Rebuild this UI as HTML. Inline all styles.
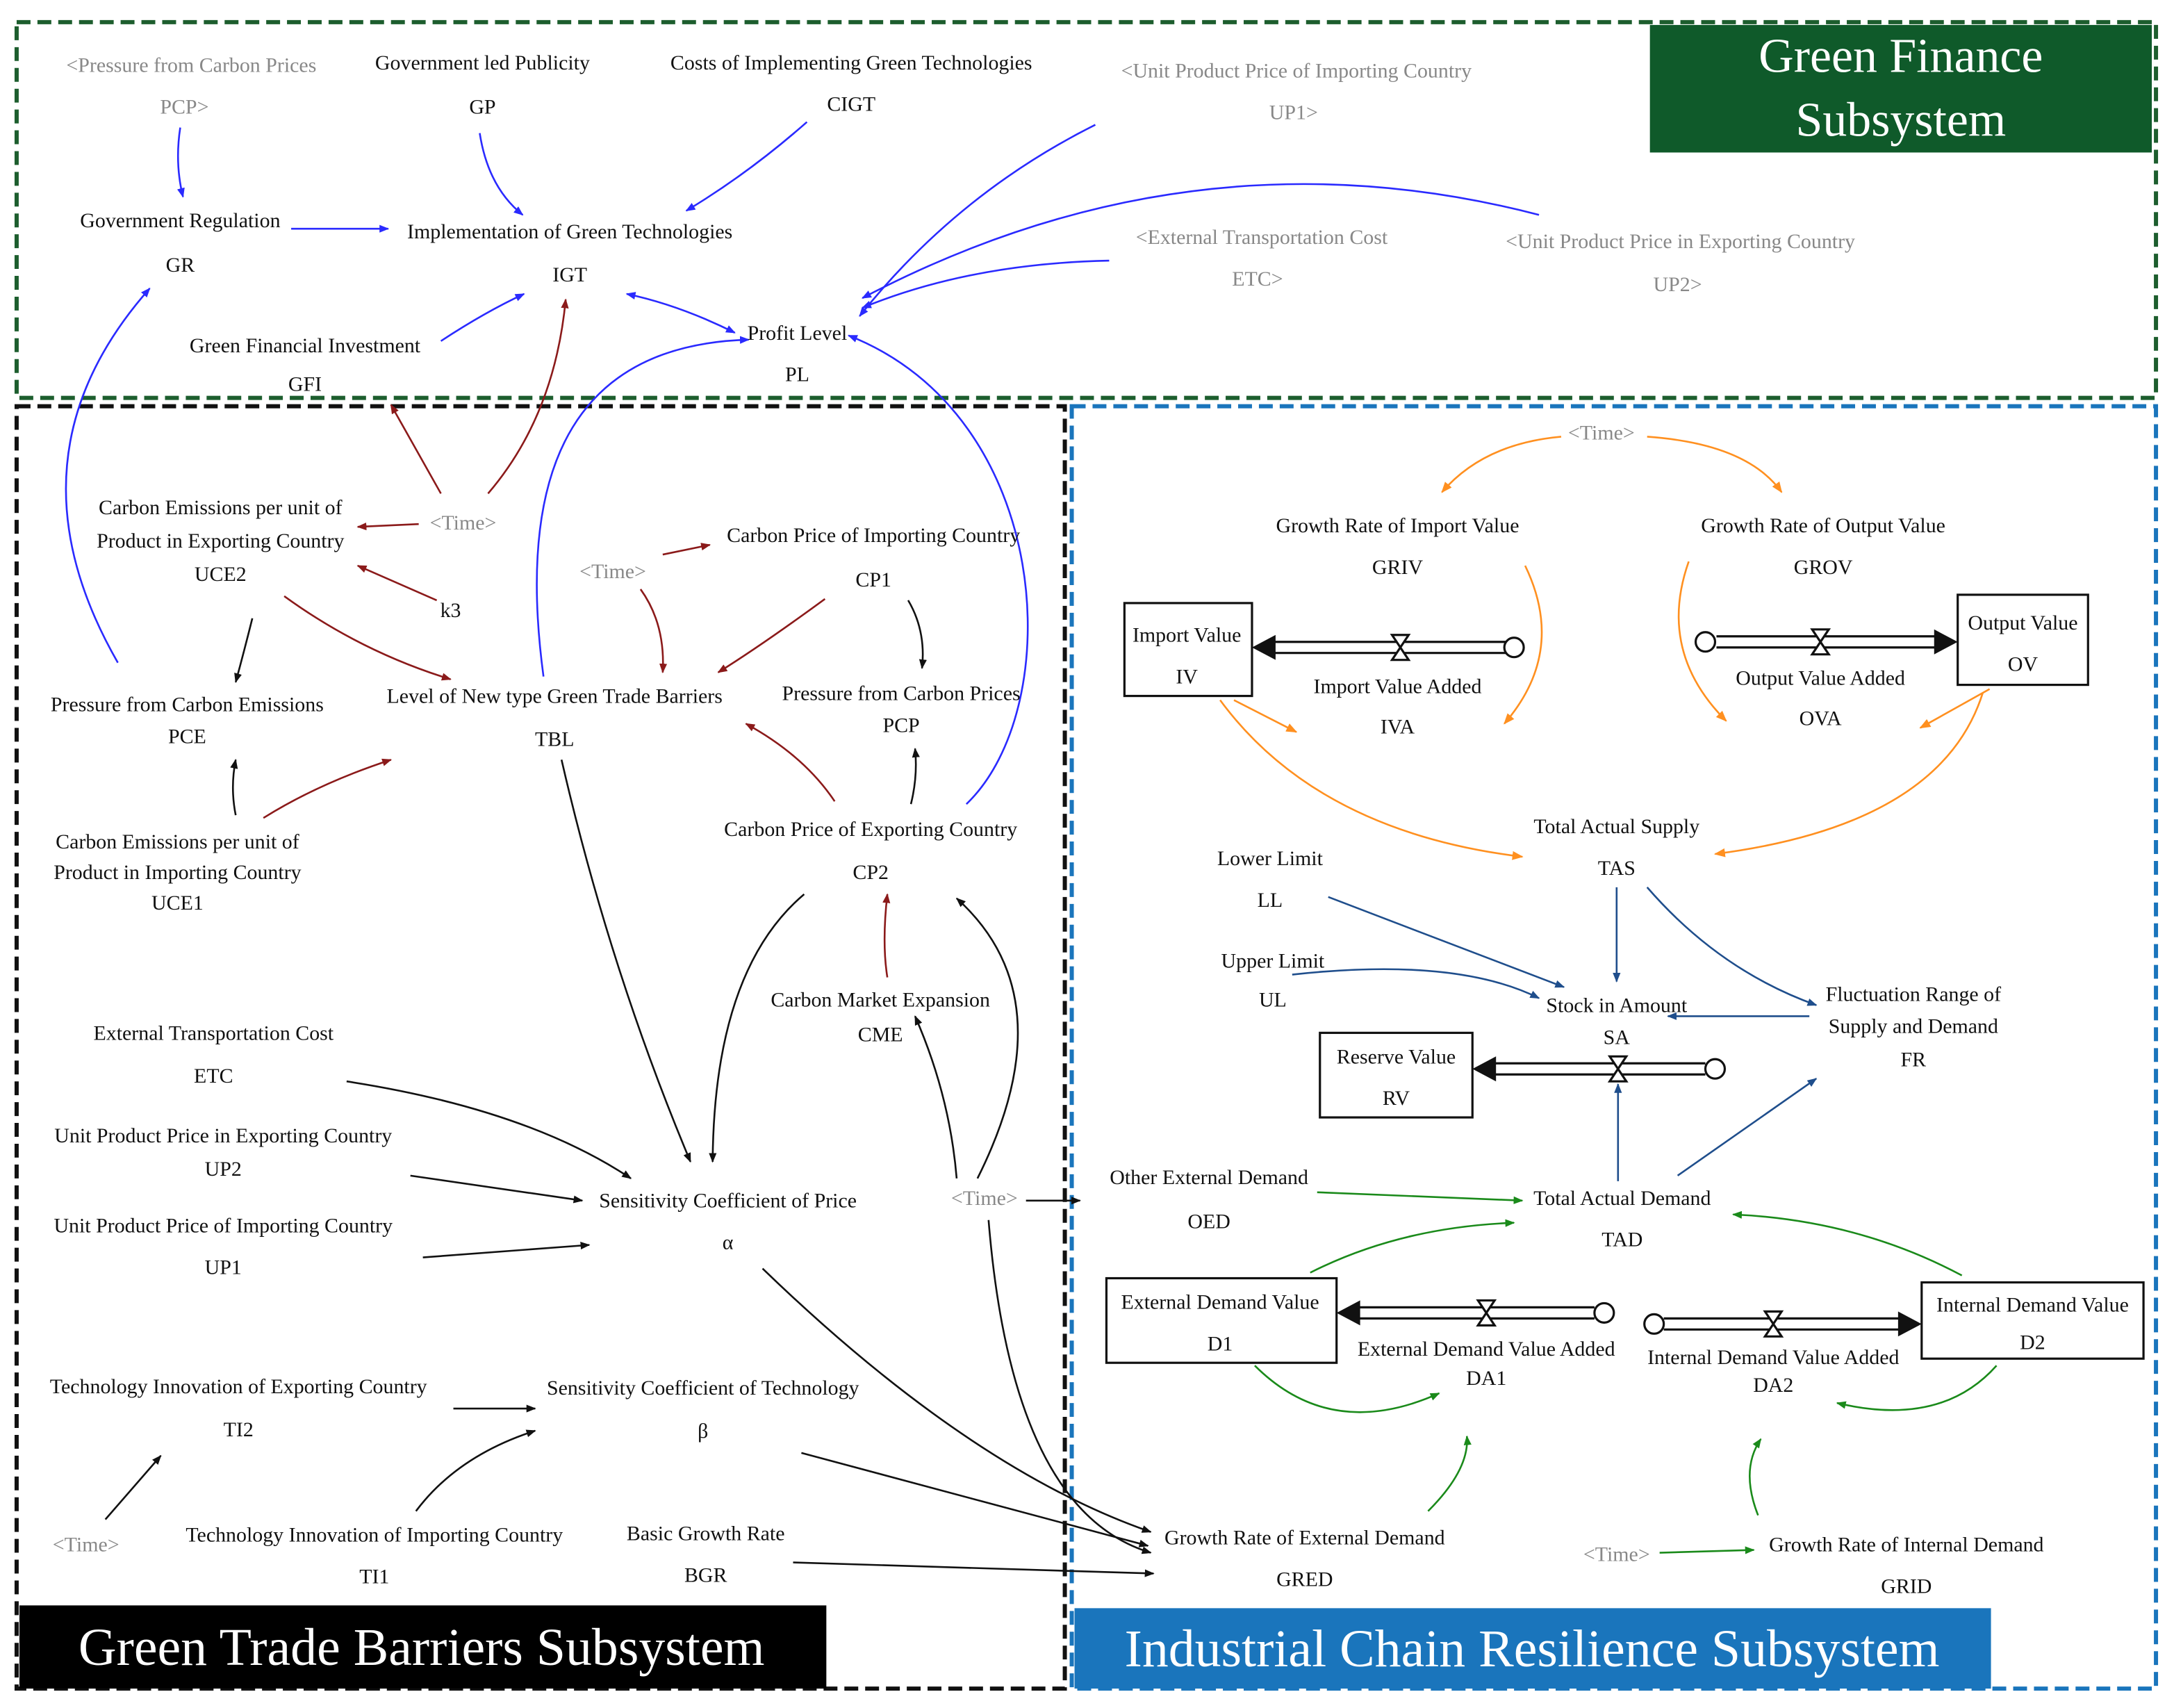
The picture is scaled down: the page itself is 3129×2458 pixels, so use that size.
<!DOCTYPE html>
<html><head><meta charset="utf-8"><style>
html,body{margin:0;padding:0;background:#fff}
svg{display:block}
text{font-family:"Liberation Serif",serif;font-size:15px;fill:#111;text-anchor:middle}
.g{fill:#888}
</style></head><body>
<svg width="3129" height="2458" viewBox="0 0 1568 1232" preserveAspectRatio="none" xmlns="http://www.w3.org/2000/svg">
<defs>
<marker id="mb" viewBox="0 0 10 10" refX="9" refY="5" markerWidth="7" markerHeight="7" orient="auto" markerUnits="userSpaceOnUse"><path d="M0,1 L10,5 L0,9z" fill="#2a2aff"/></marker>
<marker id="mbs" viewBox="0 0 10 10" refX="1" refY="5" markerWidth="7" markerHeight="7" orient="auto" markerUnits="userSpaceOnUse"><path d="M10,1 L0,5 L10,9z" fill="#2a2aff"/></marker>
<marker id="mr" viewBox="0 0 10 10" refX="9" refY="5" markerWidth="7" markerHeight="7" orient="auto" markerUnits="userSpaceOnUse"><path d="M0,1 L10,5 L0,9z" fill="#8b1a1a"/></marker>
<marker id="mk" viewBox="0 0 10 10" refX="9" refY="5" markerWidth="7" markerHeight="7" orient="auto" markerUnits="userSpaceOnUse"><path d="M0,1 L10,5 L0,9z" fill="#111"/></marker>
<marker id="mo" viewBox="0 0 10 10" refX="9" refY="5" markerWidth="8" markerHeight="8" orient="auto" markerUnits="userSpaceOnUse"><path d="M0,1 L10,5 L0,9z" fill="#ff9020"/></marker>
<marker id="mn" viewBox="0 0 10 10" refX="9" refY="5" markerWidth="7" markerHeight="7" orient="auto" markerUnits="userSpaceOnUse"><path d="M0,1 L10,5 L0,9z" fill="#1f4e8c"/></marker>
<marker id="mg" viewBox="0 0 10 10" refX="9" refY="5" markerWidth="7" markerHeight="7" orient="auto" markerUnits="userSpaceOnUse"><path d="M0,1 L10,5 L0,9z" fill="#1a8a1a"/></marker>
</defs>

<rect x="12" y="16" width="1543" height="271" fill="none" stroke="#1d5e2e" stroke-width="3" stroke-dasharray="10,5"/>
<rect x="12" y="293" width="756" height="925" fill="none" stroke="#111" stroke-width="3" stroke-dasharray="10,5"/>
<rect x="773" y="293" width="782" height="925" fill="none" stroke="#1a75bc" stroke-width="3" stroke-dasharray="10,5"/>
<rect x="1190" y="18" width="362" height="92" fill="#0f5a2a"/>
<text x="1371" y="52" style="font-size:35px;fill:#fff">Green Finance</text>
<text x="1371" y="98" style="font-size:35px;fill:#fff">Subsystem</text>
<rect x="14" y="1158" width="582" height="60" fill="#000"/>
<text x="304" y="1201" style="font-size:38px;fill:#fff">Green Trade Barriers Subsystem</text>
<rect x="775" y="1160" width="661" height="58" fill="#1a75bc"/>
<text x="1105" y="1202" style="font-size:38px;fill:#fff">Industrial Chain Resilience Subsystem</text>

<g fill="none" stroke="#111" stroke-width="1.6">
<rect x="811" y="435" width="92" height="67" fill="#fff"/>
<rect x="1412" y="429" width="94" height="65" fill="#fff"/>
<rect x="952" y="745" width="110" height="61" fill="#fff"/>
<rect x="798" y="922" width="166" height="61" fill="#fff"/>
<rect x="1386" y="925" width="160" height="55" fill="#fff"/>
<path d="M918,463 H1086 M918,471 H1086"/>
<path d="M1238,459 H1396 M1238,467 H1396"/>
<path d="M1077,767 H1230 M1077,775 H1230"/>
<path d="M979,943 H1150 M979,951 H1150"/>
<path d="M1200,951 H1370 M1200,959 H1370"/>
<circle cx="1092" cy="467" r="7" fill="#fff"/>
<circle cx="1230" cy="463" r="7" fill="#fff"/>
<circle cx="1237" cy="771" r="7" fill="#fff"/>
<circle cx="1157" cy="947" r="7" fill="#fff"/>
<circle cx="1193" cy="955" r="7" fill="#fff"/>
<path d="M1004,458 h12 l-12,18 h12z M1307,454 h12 l-12,18 h12z M1161,762 h12 l-12,18 h12z M1066,938 h12 l-12,18 h12z M1273,946 h12 l-12,18 h12z" fill="#fff"/>
</g>
<g fill="#111">
<path d="M903,467 L920,458 L920,476z"/>
<path d="M1412,463 L1395,454 L1395,472z"/>
<path d="M1062,771 L1079,762 L1079,780z"/>
<path d="M964,947 L981,938 L981,956z"/>
<path d="M1386,955 L1369,946 L1369,964z"/>
</g>

<g fill="none" stroke="#2a2aff" stroke-width="1.3" marker-end="url(#mb)">
<path d="M130,92 Q126,118 132,142"/>
<path d="M346,96 Q352,135 377,155"/>
<path d="M582,88 Q540,125 495,152"/>
<path d="M210,165 L280,165"/>
<path d="M790,90 Q690,140 620,228"/>
<path d="M800,188 Q700,190 622,222"/>
<path d="M1110,155 Q860,90 622,215"/>
<path d="M318,246 Q350,225 378,212"/>
<path d="M85,478 Q0,330 108,208"/>
<path d="M392,488 Q360,250 540,245"/>
<path d="M697,580 C770,510 760,300 612,242"/>
<path d="M530,240 Q490,220 452,212" marker-start="url(#mbs)"/>
</g>

<g fill="none" stroke="#8b1a1a" stroke-width="1.3" marker-end="url(#mr)">
<path d="M318,356 L282,292"/>
<path d="M352,356 Q400,300 408,216"/>
<path d="M302,378 L258,380"/>
<path d="M315,433 L258,408"/>
<path d="M205,430 Q260,470 325,490"/>
<path d="M478,400 L512,393"/>
<path d="M462,425 Q480,450 478,485"/>
<path d="M595,432 Q550,465 518,485"/>
<path d="M190,590 Q230,565 282,548"/>
<path d="M602,578 Q580,545 538,522"/>
<path d="M640,705 Q636,680 640,645"/>
</g>

<g fill="none" stroke="#111" stroke-width="1.3" marker-end="url(#mk)">
<path d="M182,446 Q176,470 170,492"/>
<path d="M170,588 Q166,568 170,548"/>
<path d="M655,433 Q668,455 665,482"/>
<path d="M657,580 Q662,560 660,540"/>
<path d="M405,548 Q440,700 498,838"/>
<path d="M580,645 Q515,700 514,838"/>
<path d="M250,780 Q380,800 455,850"/>
<path d="M296,848 L420,866"/>
<path d="M305,907 L425,898"/>
<path d="M327,1016 L386,1016"/>
<path d="M300,1090 Q330,1050 386,1032"/>
<path d="M76,1096 L116,1050"/>
<path d="M740,866 L779,866"/>
<path d="M690,850 Q685,790 660,733"/>
<path d="M705,850 Q770,720 690,648"/>
<path d="M713,880 Q730,1090 830,1120"/>
<path d="M550,915 Q700,1060 830,1105"/>
<path d="M578,1048 L828,1115"/>
<path d="M572,1127 L832,1135"/>
</g>

<g fill="none" stroke="#ff9020" stroke-width="1.3" marker-end="url(#mo)">
<path d="M1126,315 Q1070,320 1040,355"/>
<path d="M1188,315 Q1260,320 1285,355"/>
<path d="M1100,408 Q1130,470 1085,522"/>
<path d="M1218,405 Q1195,470 1245,520"/>
<path d="M890,505 L935,528"/>
<path d="M1435,497 L1385,525"/>
<path d="M880,505 Q950,600 1098,618"/>
<path d="M1430,500 Q1400,595 1237,616"/>
</g>

<g fill="none" stroke="#1f4e8c" stroke-width="1.3" marker-end="url(#mn)">
<path d="M1166,640 L1166,708"/>
<path d="M958,647 L1128,712"/>
<path d="M932,703 Q1050,690 1110,720"/>
<path d="M1188,640 Q1240,700 1310,725"/>
<path d="M1305,733 L1203,733"/>
<path d="M1167,852 L1167,782"/>
<path d="M1210,848 L1310,778"/>
</g>

<g fill="none" stroke="#1a8a1a" stroke-width="1.3" marker-end="url(#mg)">
<path d="M950,860 L1098,866"/>
<path d="M945,918 Q1010,885 1092,882"/>
<path d="M1415,920 Q1340,880 1250,876"/>
<path d="M905,985 Q960,1040 1038,1005"/>
<path d="M1440,985 Q1400,1030 1325,1012"/>
<path d="M1030,1090 Q1060,1060 1058,1036"/>
<path d="M1268,1093 Q1255,1060 1270,1038"/>
<path d="M1197,1120 L1265,1118"/>
</g>

<text class="g" x="138" y="52">&lt;Pressure from Carbon Prices</text>
<text class="g" x="133" y="82">PCP&gt;</text>
<text x="348" y="50">Government led Publicity</text>
<text x="348" y="82">GP</text>
<text x="614" y="50">Costs of Implementing Green Technologies</text>
<text x="614" y="80">CIGT</text>
<text class="g" x="935" y="56">&lt;Unit Product Price of Importing Country</text>
<text class="g" x="933" y="86">UP1&gt;</text>
<text x="130" y="164">Government Regulation</text>
<text x="130" y="196">GR</text>
<text x="411" y="172">Implementation of Green Technologies</text>
<text x="411" y="203">IGT</text>
<text class="g" x="910" y="176">&lt;External Transportation Cost</text>
<text class="g" x="907" y="206">ETC&gt;</text>
<text class="g" x="1212" y="179">&lt;Unit Product Price in Exporting Country</text>
<text class="g" x="1210" y="210">UP2&gt;</text>
<text x="220" y="254">Green Financial Investment</text>
<text x="220" y="282">GFI</text>
<text x="575" y="245">Profit Level</text>
<text x="575" y="275">PL</text>

<text x="159" y="371">Carbon Emissions per unit of</text>
<text x="159" y="395">Product in Exporting Country</text>
<text x="159" y="419">UCE2</text>
<text class="g" x="334" y="382">&lt;Time&gt;</text>
<text x="325" y="445">k3</text>
<text class="g" x="442" y="417">&lt;Time&gt;</text>
<text x="630" y="391">Carbon Price of Importing Country</text>
<text x="630" y="423">CP1</text>
<text x="400" y="507">Level of New type Green Trade Barriers</text>
<text x="400" y="538">TBL</text>
<text x="135" y="513">Pressure from Carbon Emissions</text>
<text x="135" y="536">PCE</text>
<text x="650" y="505">Pressure from Carbon Prices</text>
<text x="650" y="528">PCP</text>
<text x="628" y="603">Carbon Price of Exporting Country</text>
<text x="628" y="634">CP2</text>
<text x="128" y="612">Carbon Emissions per unit of</text>
<text x="128" y="634">Product in Importing Country</text>
<text x="128" y="656">UCE1</text>
<text x="635" y="726">Carbon Market Expansion</text>
<text x="635" y="751">CME</text>
<text x="154" y="750">External Transportation Cost</text>
<text x="154" y="781">ETC</text>
<text x="161" y="824">Unit Product Price in Exporting Country</text>
<text x="161" y="848">UP2</text>
<text x="525" y="871">Sensitivity Coefficient of Price</text>
<text x="525" y="901">α</text>
<text class="g" x="710" y="869">&lt;Time&gt;</text>
<text x="161" y="889">Unit Product Price of Importing Country</text>
<text x="161" y="919">UP1</text>
<text x="172" y="1005">Technology Innovation of Exporting Country</text>
<text x="172" y="1036">TI2</text>
<text x="507" y="1006">Sensitivity Coefficient of Technology</text>
<text x="507" y="1037">β</text>
<text class="g" x="62" y="1119">&lt;Time&gt;</text>
<text x="270" y="1112">Technology Innovation of Importing Country</text>
<text x="270" y="1142">TI1</text>
<text x="509" y="1111">Basic Growth Rate</text>
<text x="509" y="1141">BGR</text>

<text class="g" x="1155" y="317">&lt;Time&gt;</text>
<text x="1008" y="384">Growth Rate of Import Value</text>
<text x="1008" y="414">GRIV</text>
<text x="1315" y="384">Growth Rate of Output Value</text>
<text x="1315" y="414">GROV</text>
<text x="856" y="463">Import Value</text>
<text x="856" y="493">IV</text>
<text x="1459" y="454">Output Value</text>
<text x="1459" y="484">OV</text>
<text x="1008" y="500">Import Value Added</text>
<text x="1008" y="529">IVA</text>
<text x="1313" y="494">Output Value Added</text>
<text x="1313" y="523">OVA</text>
<text x="1166" y="601">Total Actual Supply</text>
<text x="1166" y="631">TAS</text>
<text x="916" y="624">Lower Limit</text>
<text x="916" y="654">LL</text>
<text x="918" y="698">Upper Limit</text>
<text x="918" y="726">UL</text>
<text x="1166" y="730">Stock in Amount</text>
<text x="1166" y="753">SA</text>
<text x="1380" y="722">Fluctuation Range of</text>
<text x="1380" y="745">Supply and Demand</text>
<text x="1380" y="769">FR</text>
<text x="1007" y="767">Reserve Value</text>
<text x="1007" y="797">RV</text>
<text x="872" y="854">Other External Demand</text>
<text x="872" y="886">OED</text>
<text x="1170" y="869">Total Actual Demand</text>
<text x="1170" y="899">TAD</text>
<text x="880" y="944">External Demand Value</text>
<text x="880" y="974">D1</text>
<text x="1466" y="946">Internal Demand Value</text>
<text x="1466" y="973">D2</text>
<text x="1072" y="978">External Demand Value Added</text>
<text x="1072" y="999">DA1</text>
<text x="1279" y="984">Internal Demand Value Added</text>
<text x="1279" y="1004">DA2</text>
<text x="941" y="1114">Growth Rate of External Demand</text>
<text x="941" y="1144">GRED</text>
<text class="g" x="1166" y="1126">&lt;Time&gt;</text>
<text x="1375" y="1119">Growth Rate of Internal Demand</text>
<text x="1375" y="1149">GRID</text>
</svg>
</body></html>
